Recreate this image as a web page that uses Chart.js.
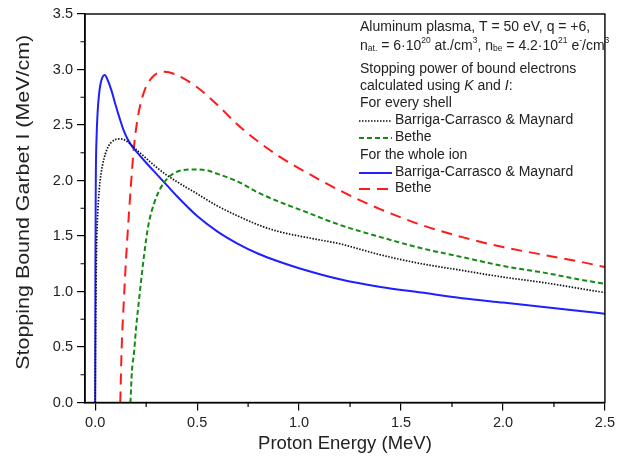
<!DOCTYPE html>
<html>
<head>
<meta charset="utf-8">
<title>Stopping power of bound electrons</title>
<script src="https://cdn.jsdelivr.net/npm/chart.js@4"></script>
<style>
  html, body { margin: 0; padding: 0; background: #fff; }
</style>
</head>
<body>
<canvas id="chart" width="619" height="466"></canvas>
<script>
// Tick values for both axes
const energyTicks = [0, 0.5, 1.0, 1.5, 2.0, 2.5];
const stoppingTicks = [0, 0.5, 1.0, 1.5, 2.0, 2.5, 3.0, 3.5];

// For every shell, Barriga-Carrasco & Maynard (black dotted)
const bcmShellEnergy = [0, 0.002, 0.004, 0.007, 0.011, 0.016, 0.023, 0.035, 0.05, 0.065, 0.08, 0.1, 0.12, 0.15,
  0.2, 0.25, 0.3, 0.35, 0.4, 0.5, 0.6, 0.7, 0.8, 0.9, 1.0, 1.1, 1.2, 1.3, 1.4, 1.6, 1.8, 2.0, 2.2, 2.4, 2.5];
const bcmShellStopping = [0, 0.6, 1.0, 1.42, 1.65, 1.82, 1.98, 2.13, 2.24, 2.31, 2.345, 2.37, 2.375, 2.36,
  2.28, 2.2, 2.12, 2.05, 1.99, 1.88, 1.77, 1.68, 1.60, 1.54, 1.50, 1.465, 1.43, 1.38, 1.33, 1.25, 1.19, 1.13, 1.08, 1.02, 0.99];

// For every shell, Bethe (green dashed)
const betheShellEnergy = [0.173, 0.18, 0.19, 0.2, 0.22, 0.24, 0.26, 0.29, 0.32, 0.36, 0.42, 0.48, 0.55, 0.6,
  0.7, 0.8, 0.9, 1.0, 1.2, 1.4, 1.6, 1.8, 2.0, 2.2, 2.4, 2.5];
const betheShellStopping = [0, 0.28, 0.44, 0.66, 1.01, 1.33, 1.59, 1.8, 1.93, 2.03, 2.09, 2.10, 2.09, 2.06,
  1.99, 1.89, 1.81, 1.74, 1.60, 1.49, 1.39, 1.31, 1.23, 1.17, 1.10, 1.07];

// For the whole ion, Barriga-Carrasco & Maynard (blue solid)
const bcmIonEnergy = [0, 0.001, 0.003, 0.007, 0.012, 0.018, 0.025, 0.035, 0.047, 0.06, 0.08, 0.1, 0.12, 0.14,
  0.16, 0.18, 0.2, 0.25, 0.3, 0.35, 0.4, 0.5, 0.6, 0.7, 0.8, 0.9, 1.0, 1.2, 1.4, 1.6, 1.8, 2.0, 2.2, 2.4, 2.5];
const bcmIonStopping = [0, 1.2, 2.0, 2.4, 2.62, 2.76, 2.86, 2.93, 2.95, 2.91, 2.81, 2.68, 2.56, 2.45,
  2.37, 2.31, 2.265, 2.16, 2.06, 1.96, 1.86, 1.68, 1.54, 1.43, 1.34, 1.27, 1.21, 1.11, 1.04, 0.99, 0.94, 0.90, 0.86, 0.82, 0.80];

// For the whole ion, Bethe (red dashed)
const betheIonEnergy = [0.123, 0.13, 0.14, 0.15, 0.16, 0.175, 0.19, 0.21, 0.24, 0.28, 0.34, 0.4, 0.5, 0.6,
  0.7, 0.8, 0.9, 1.0, 1.2, 1.4, 1.6, 1.8, 2.0, 2.2, 2.4, 2.5];
const betheIonStopping = [0, 0.5, 0.9, 1.25, 1.55, 1.95, 2.3, 2.58, 2.8, 2.93, 2.98, 2.95, 2.84, 2.68,
  2.50, 2.35, 2.22, 2.11, 1.91, 1.74, 1.60, 1.49, 1.40, 1.33, 1.26, 1.22];

const fontFamily = '"Liberation Sans", Arial, sans-serif';
const textColor = '#222';
const yTitle = 'Stopping Bound Garbet I (MeV/cm)';

// line styles, shared by the datasets and the legend samples
const styles = {
  bcmShell: { color: '#111', width: 1.7, dash: [1.5, 1.5] },
  betheShell: { color: '#138a13', width: 2, dash: [5, 3] },
  bcmIon: { color: '#1f1fff', width: 2, dash: [] },
  betheIon: { color: '#ff1a1a', width: 2, dash: [11, 7] },
};

const toPoints = (xs, ys) => xs.map((x, i) => ({ x, y: ys[i] }));

const makeDataset = (label, xs, ys, style) => ({
  label,
  data: toPoints(xs, ys),
  showLine: true,
  borderColor: style.color,
  borderWidth: style.width,
  borderDash: style.dash,
  pointRadius: 0,
  cubicInterpolationMode: 'monotone',
  fill: false,
});

// Draw one line of text made of normal, italic, sub and superscript parts.
const drawRich = (ctx, parts, x, y) => {
  parts.forEach(([text, kind]) => {
    let size = 14;
    let dy = 0;
    let style = '';
    if (kind === 'sub') { size = 8.5; dy = 3; }
    if (kind === 'sup') { size = 8.5; dy = -5; }
    if (kind === 'i') style = 'italic ';
    ctx.font = `${style}${size}px ${fontFamily}`;
    ctx.fillText(text, x, y + dy);
    x += ctx.measureText(text).width;
  });
};

const legendLines = [
  { y: 27, parts: [['Aluminum plasma, T = 50 eV, q = +6,']] },
  { y: 46, parts: [['n'], ['at.', 'sub'], [' = 6\u00b710'], ['20', 'sup'], [' at./cm'], ['3', 'sup'],
    [', n'], ['be', 'sub'], [' = 4.2\u00b710'], ['21', 'sup'], [' e'], ['-', 'sup'], ['/cm'], ['3', 'sup']] },
  { y: 69, parts: [['Stopping power of bound electrons']] },
  { y: 86, parts: [['calculated using '], ['K', 'i'], [' and '], ['I', 'i'], [':']] },
  { y: 103, parts: [['For every shell']] },
  { y: 120, parts: [['Barriga-Carrasco & Maynard']], sample: styles.bcmShell },
  { y: 137, parts: [['Bethe']], sample: styles.betheShell },
  { y: 155, parts: [['For the whole ion']] },
  { y: 172, parts: [['Barriga-Carrasco & Maynard']], sample: styles.bcmIon },
  { y: 188, parts: [['Bethe']], sample: styles.betheIon },
];

// Frame, minor ticks, the y title and the text legend in the upper right corner.
const decorations = {
  id: 'decorations',
  afterDraw(chart) {
    const { ctx, chartArea: area, scales } = chart;
    ctx.save();

    // minor ticks half way between the major ones
    ctx.strokeStyle = '#000';
    ctx.lineWidth = 1.2;
    ctx.beginPath();
    for (let v = 0.25; v < 2.5; v += 0.5) {
      const px = scales.x.getPixelForValue(v);
      ctx.moveTo(px, area.bottom);
      ctx.lineTo(px, area.bottom + 4.5);
    }
    for (let v = 0.25; v < 3.5; v += 0.5) {
      const py = scales.y.getPixelForValue(v);
      ctx.moveTo(area.left, py);
      ctx.lineTo(area.left - 4.5, py);
    }
    ctx.stroke();

    ctx.lineWidth = 1.4;
    ctx.strokeRect(area.left, area.top, area.right - area.left, area.bottom - area.top);

    // y title, stretched along its length like in the original figure
    ctx.fillStyle = textColor;
    ctx.save();
    ctx.translate(24, (area.top + area.bottom) / 2 - 6);
    ctx.rotate(-Math.PI / 2);
    ctx.font = `18px ${fontFamily}`;
    ctx.textAlign = 'center';
    ctx.textBaseline = 'middle';
    const w = ctx.measureText(yTitle).width;
    ctx.scale(335 / w, 1);
    ctx.fillText(yTitle, 0, 0);
    ctx.restore();

    ctx.textBaseline = 'middle';
    ctx.textAlign = 'left';
    legendLines.forEach((line) => {
      let x = 360;
      if (line.sample) {
        ctx.beginPath();
        ctx.strokeStyle = line.sample.color;
        ctx.lineWidth = line.sample.width;
        ctx.setLineDash(line.sample.dash);
        ctx.moveTo(359, line.y + 1);
        ctx.lineTo(392, line.y + 1);
        ctx.stroke();
        ctx.setLineDash([]);
        x = 395;
      }
      drawRich(ctx, line.parts, x, line.y);
    });
    ctx.restore();
  },
};

new Chart(document.getElementById('chart'), {
  type: 'scatter',
  data: {
    datasets: [
      makeDataset('Barriga-Carrasco & Maynard (every shell)', bcmShellEnergy, bcmShellStopping, styles.bcmShell),
      makeDataset('Bethe (every shell)', betheShellEnergy, betheShellStopping, styles.betheShell),
      makeDataset('Barriga-Carrasco & Maynard (whole ion)', bcmIonEnergy, bcmIonStopping, styles.bcmIon),
      makeDataset('Bethe (whole ion)', betheIonEnergy, betheIonStopping, styles.betheIon),
    ],
  },
  options: {
    responsive: false,
    animation: false,
    devicePixelRatio: 1,
    layout: { padding: { top: 14, right: 10, bottom: 0, left: 0 } },
    plugins: {
      legend: { display: false },
      tooltip: { enabled: false },
    },
    scales: {
      x: {
        type: 'linear',
        min: -0.05,
        max: 2.5,
        afterFit: (scale) => { scale.height = 63.5; },
        afterBuildTicks: (scale) => { scale.ticks = energyTicks.map((value) => ({ value })); },
        border: { color: '#000', width: 1.4 },
        grid: { drawOnChartArea: false, color: '#000', lineWidth: 1.2, tickLength: 8 },
        ticks: {
          color: textColor,
          padding: 4,
          maxRotation: 0,
          font: { family: fontFamily, size: 14.5 },
          callback: (v) => Number(v).toFixed(1),
        },
        title: {
          display: true,
          text: 'Proton Energy (MeV)',
          color: textColor,
          font: { family: fontFamily, size: 18.5 },
          padding: { top: 0, bottom: 11 },
        },
      },
      y: {
        type: 'linear',
        min: 0,
        max: 3.5,
        afterFit: (scale) => { scale.width = 85; },
        afterBuildTicks: (scale) => { scale.ticks = stoppingTicks.map((value) => ({ value })); },
        border: { color: '#000', width: 1.4 },
        grid: { drawOnChartArea: false, color: '#000', lineWidth: 1.2, tickLength: 8 },
        ticks: {
          color: textColor,
          padding: 4,
          font: { family: fontFamily, size: 14.5 },
          callback: (v) => Number(v).toFixed(1),
        },
        title: { display: false },
      },
    },
  },
  plugins: [decorations],
});
</script>
</body>
</html>
